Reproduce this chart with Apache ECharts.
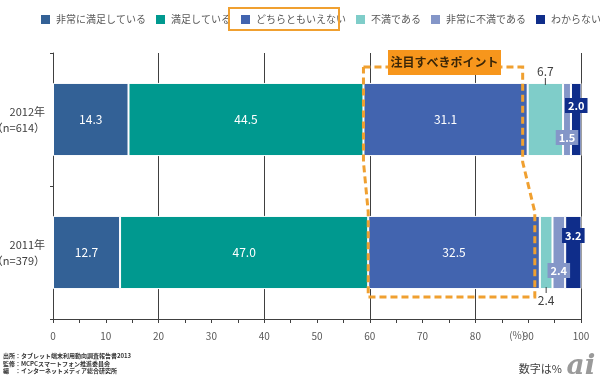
<!DOCTYPE html>
<html><head><meta charset="utf-8">
<script src="https://cdn.jsdelivr.net/npm/echarts@6/dist/echarts.min.js"></script>
<style>html,body{margin:0;padding:0;background:#fff}#c{width:600px;height:382px}</style>
</head><body><div id="c"></div>
<script>
const categories = ['2012年\n（n=614）', '2011年\n（n=379）'];
const seriesNames = ['非常に満足している','満足している','どちらともいえない','不満である','非常に不満である','わからない'];
const verySatisfied = [14.3, 12.7];
const satisfied = [44.5, 47.0];
const neutral = [31.1, 32.5];
const dissatisfied = [6.7, 2.4];
const veryDissatisfied = [1.5, 2.4];
const unknown = [2.0, 3.2];
const xMin = 0, xMax = 100, xInterval = 10;
const calloutTitle = '注目すべきポイント';
const sources = ['出所：タブレット端末利用動向調査報告書2013','監修：MCPCスマートフォン推進委員会','編　：インターネットメディア総合研究所'];
const unitNote = '数字は%';

const colors = ['#336196','#00998F','#4264AF','#7FCDC9','#8496C8','#0F2D8A'];
const FONT = '"Noto Sans CJK JP", "Noto Sans", sans-serif';
const allValues = [verySatisfied, satisfied, neutral, dissatisfied, veryDissatisfied, unknown];

function labelFor(si, di) {
  const base = {show: true, fontFamily: FONT, fontSize: 12, color: '#ffffff', position: 'inside'};
  if (si <= 2) return base;
  if (si === 3) return Object.assign({}, base, {position: di === 0 ? 'top' : 'bottom', distance: 5, color: '#404040'});
  if (si === 4) return Object.assign({}, base, {fontSize: 11, fontWeight: 'bold', offset: [0, 18], backgroundColor: colors[4], padding: [2, 3]});
  return Object.assign({}, base, {fontSize: 11, fontWeight: 'bold', offset: [0, di === 0 ? -14 : -17], backgroundColor: colors[5], padding: [2, 3]});
}

const series = seriesNames.map((name, si) => ({
  name, type: 'bar', stack: 'total', barWidth: '55%',
  itemStyle: {color: colors[si], borderColor: '#ffffff', borderWidth: 1},
  data: allValues[si].map((v, di) => ({value: v, label: labelFor(si, di)})),
  label: {formatter: p => p.value.toFixed(1)},
  emphasis: {disabled: true}, z: 3
}));

const chart = echarts.init(document.getElementById('c'), null, {renderer: 'canvas'});
chart.setOption({
  animation: false,
  color: colors,
  legend: {
    top: 13, left: 39, width: 600, padding: 0, itemWidth: 11, itemHeight: 11, itemGap: 8,
    icon: 'rect', textStyle: {fontFamily: FONT, fontSize: 10, color: '#595959'},
    data: seriesNames
  },
  grid: {left: 53, right: 19, top: 53, bottom: 63, containLabel: false, outerBoundsMode: 'none'},
  xAxis: [{
    type: 'value', min: xMin, max: xMax, interval: xInterval,
    axisLine: {show: true, lineStyle: {color: '#404040', width: 1}},
    axisTick: {show: true, length: 4, lineStyle: {color: '#404040'}},
    minorTick: {show: true, splitNumber: 2, length: 4, lineStyle: {color: '#404040'}},
    splitLine: {show: false},
    axisLabel: {fontFamily: FONT, fontSize: 10, color: '#595959', margin: 12}
  }, {
    type: 'value', min: xMin, max: xMax, interval: 20, position: 'bottom',
    axisLine: {show: false}, axisTick: {show: false}, axisLabel: {show: false},
    splitLine: {show: true, lineStyle: {color: '#404040', width: 1}}
  }],
  yAxis: {
    type: 'category', data: categories, inverse: true,
    axisLine: {show: true, lineStyle: {color: '#404040', width: 1}},
    axisTick: {show: true, length: 3, lineStyle: {color: '#404040'}},
    axisLabel: {fontFamily: FONT, fontSize: 11, color: '#404040', lineHeight: 16, margin: 8}
  },
  series
});

// annotations computed from the chart's scales
const px = (v, c) => chart.convertToPixel({xAxisIndex: 0, yAxisIndex: 0}, [v, c]);
const s12 = verySatisfied[0] + satisfied[0];
const s11 = verySatisfied[1] + satisfied[1];
const e12 = s12 + neutral[0];
const e11 = s11 + neutral[1];
const L12 = px(s12, 0)[0], R12 = px(e12, 0)[0] - 5;
const L11 = px(s11, 1)[0], R11 = px(e11, 1)[0] - 5;
const topY = 67, botY = 297, mid1 = 162, mid2 = 212;
const d12 = px(s12 + neutral[0] + dissatisfied[0] / 2, 0)[0];
const d11 = px(s11 + neutral[1] + dissatisfied[1] / 2, 1)[0];
const x90 = px(90, 0)[0];
chart.setOption({
  graphic: [
    {type: 'polyline', z: 50, shape: {points: [[L12, topY], [R12, topY], [R12, mid1], [R11, mid2], [R11, botY], [L11, botY], [L11, mid2], [L12, mid1], [L12, topY]]},
     style: {stroke: '#F0A030', lineWidth: 3, fill: null, lineDash: [7, 4]}},
    {type: 'rect', z: 51, shape: {x: 388, y: 50, width: 113, height: 25}, style: {fill: '#F7961C'}},
    {type: 'text', z: 52, x: 444.5, y: 62.5, style: {text: calloutTitle, fontFamily: FONT, fontSize: 12, fontWeight: 'bold', fill: '#3a2608', align: 'center', verticalAlign: 'middle'}},
    {type: 'rect', z: 51, shape: {x: 229, y: 8, width: 110, height: 22}, style: {fill: null, stroke: '#F0A030', lineWidth: 2}},
    {type: 'line', z: 52, shape: {x1: d12, y1: 78, x2: d12, y2: 85}, style: {stroke: '#404040', lineWidth: 1}},
    {type: 'line', z: 52, shape: {x1: d11, y1: 287, x2: d11, y2: 293}, style: {stroke: '#404040', lineWidth: 1}},
    {type: 'text', z: 52, x: x90 - 3, y: 335, style: {text: '(%)', fontFamily: FONT, fontSize: 10, fill: '#595959', align: 'right', verticalAlign: 'middle'}},
    {type: 'text', z: 52, x: 3, y: 356, style: {text: sources[0], fontFamily: FONT, fontSize: 6, fontWeight: 'bold', fill: '#333', verticalAlign: 'middle'}},
    {type: 'text', z: 52, x: 3, y: 363.5, style: {text: sources[1], fontFamily: FONT, fontSize: 6, fontWeight: 'bold', fill: '#333', verticalAlign: 'middle'}},
    {type: 'text', z: 52, x: 3, y: 371, style: {text: sources[2], fontFamily: FONT, fontSize: 6, fontWeight: 'bold', fill: '#333', verticalAlign: 'middle'}},
    {type: 'text', z: 52, x: 562, y: 369, style: {text: unitNote, fontFamily: FONT, fontSize: 11, fill: '#404040', align: 'right', verticalAlign: 'middle'}},
    {type: 'text', z: 52, x: 581, y: 367, style: {text: 'ai', fontFamily: '"DejaVu Serif", serif', fontSize: 28, fontStyle: 'italic', fontWeight: 'bold', fill: '#9a9a9a', align: 'center', verticalAlign: 'middle'}}
  ]
});
</script></body></html>
